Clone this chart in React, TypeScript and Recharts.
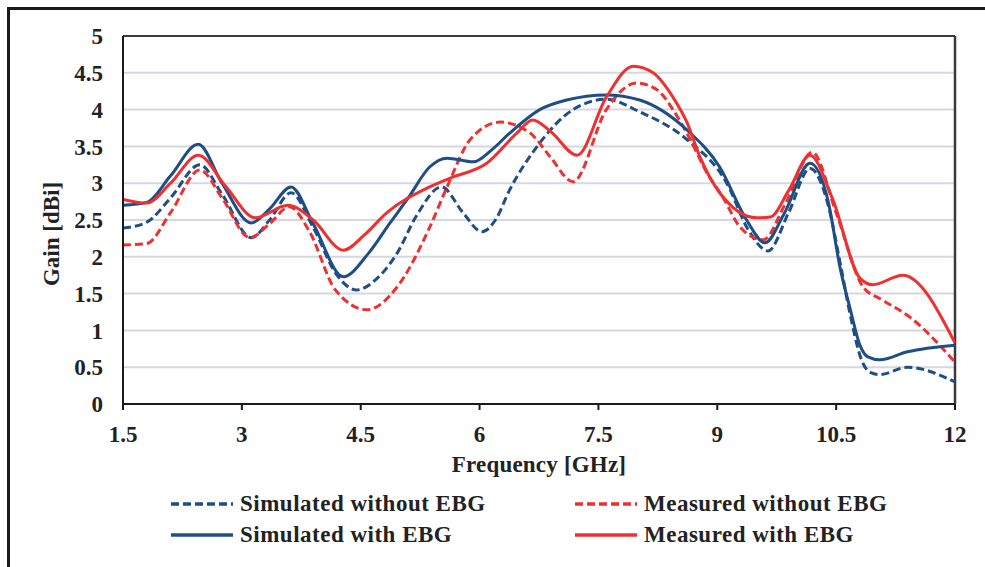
// Gain vs frequency — four smoothed series (simulated/measured, with/without EBG).
// Each series carries its own frequency samples, drawn on a numeric X axis.

import React from 'react'
import {
  LineChart,
  Line,
  XAxis,
  YAxis,
  CartesianGrid,
  ReferenceLine,
  Label,
} from 'recharts'

const FONT = "'Liberation Serif', 'Times New Roman', serif"
const TEXT_COLOR = '#222222'
const BLUE = '#1f4e85'
const RED = '#ef3030'

const xTicks = [1.5, 3, 4.5, 6, 7.5, 9, 10.5, 12]
const yTicks = [0, 0.5, 1, 1.5, 2, 2.5, 3, 3.5, 4, 4.5, 5]

// Simulated without EBG
const simNoEbgFreq = [1.5, 1.8, 2.1, 2.47, 2.75, 3.12, 3.35, 3.62, 3.9, 4.2, 4.45, 4.7, 4.96, 5.2, 5.52, 5.79, 6.03, 6.2, 6.38, 6.72, 7.18, 7.6, 8.02, 8.62, 9.12, 9.4, 9.64, 9.9, 10.17, 10.4, 10.55, 10.68, 10.82, 10.93, 11.05, 11.4, 12]
const simNoEbgGain = [2.39, 2.47, 2.8, 3.25, 2.85, 2.26, 2.5, 2.87, 2.4, 1.75, 1.55, 1.7, 2.05, 2.55, 2.95, 2.6, 2.34, 2.5, 2.91, 3.49, 4.0, 4.14, 3.97, 3.59, 3.0, 2.35, 2.08, 2.6, 3.2, 2.7, 1.92, 1.2, 0.6, 0.43, 0.4, 0.5, 0.3]

// Simulated with EBG
const simEbgFreq = [1.5, 1.8, 2.1, 2.45, 2.75, 3.12, 3.35, 3.62, 3.9, 4.28, 4.6, 4.87, 5.1, 5.37, 5.59, 5.92, 6.15, 6.38, 6.76, 7.1, 7.6, 8.02, 8.62, 9.03, 9.37, 9.6, 9.85, 10.17, 10.4, 10.55, 10.68, 10.8, 10.9, 11.05, 11.4, 12]
const simEbgGain = [2.7, 2.74, 3.1, 3.53, 3.0, 2.46, 2.65, 2.95, 2.45, 1.73, 2.05, 2.46, 2.8, 3.22, 3.34, 3.29, 3.45, 3.68, 4.0, 4.13, 4.2, 4.13, 3.72, 3.22, 2.5, 2.19, 2.6, 3.27, 2.75, 1.85, 1.28, 0.8, 0.64, 0.6, 0.71, 0.8]

// Measured without EBG
const measNoEbgFreq = [1.5, 1.8, 2.1, 2.47, 2.75, 3.1, 3.35, 3.6, 3.85, 4.18, 4.58, 4.96, 5.37, 5.59, 5.88, 6.26, 6.64, 6.89, 7.18, 7.6, 7.98, 8.24, 8.44, 8.66, 8.87, 9.07, 9.29, 9.58, 9.85, 10.2, 10.5, 10.84, 11.09, 11.43, 12]
const measNoEbgGain = [2.16, 2.18, 2.6, 3.18, 2.8, 2.26, 2.45, 2.68, 2.35, 1.55, 1.28, 1.59, 2.4, 2.95, 3.59, 3.83, 3.68, 3.36, 3.02, 4.0, 4.36, 4.27, 4.0, 3.59, 3.14, 2.81, 2.4, 2.23, 2.7, 3.42, 2.6, 1.59, 1.41, 1.18, 0.57]

// Measured with EBG
const measEbgFreq = [1.5, 1.8, 2.1, 2.45, 2.8, 3.17, 3.58, 3.9, 4.28, 4.55, 4.83, 5.37, 5.63, 6.09, 6.47, 6.67, 6.9, 7.23, 7.6, 7.94, 8.19, 8.44, 8.62, 8.78, 9.03, 9.5, 9.67, 9.9, 10.17, 10.45, 10.8, 10.96, 11.34, 12]
const measEbgGain = [2.78, 2.73, 3.0, 3.38, 2.95, 2.53, 2.7, 2.5, 2.09, 2.3, 2.6, 2.95, 3.07, 3.27, 3.68, 3.86, 3.7, 3.38, 4.17, 4.59, 4.5, 4.17, 3.82, 3.36, 2.87, 2.53, 2.54, 2.9, 3.38, 2.8, 1.71, 1.62, 1.75, 0.83]

function toPoints(freq: number[], gain: number[]) {
  return freq.map((f, i) => ({ freq: f, gain: gain[i] }))
}

const series = [
  { key: 'simNoEbg', name: 'Simulated without EBG', color: BLUE, dashed: true, data: toPoints(simNoEbgFreq, simNoEbgGain) },
  { key: 'measNoEbg', name: 'Measured without EBG', color: RED, dashed: true, data: toPoints(measNoEbgFreq, measNoEbgGain) },
  { key: 'simEbg', name: 'Simulated with EBG', color: BLUE, dashed: false, data: toPoints(simEbgFreq, simEbgGain) },
  { key: 'measEbg', name: 'Measured with EBG', color: RED, dashed: false, data: toPoints(measEbgFreq, measEbgGain) },
]

const tickStyle = { fontSize: 23, fontFamily: FONT, fontWeight: 700, fill: TEXT_COLOR }

function GainLabel({ viewBox }: any) {
  const cx = viewBox.x + 51
  const cy = viewBox.y + viewBox.height / 2 + 14
  return (
    <text
      x={cx}
      y={cy}
      transform={`rotate(-90, ${cx}, ${cy})`}
      textAnchor="middle"
      dominantBaseline="central"
      style={tickStyle}
    >
      Gain [dBi]
    </text>
  )
}

function LegendItem({ name, color, dashed }: { name: string; color: string; dashed: boolean }) {
  return (
    <div style={{ display: 'flex', alignItems: 'center', height: 31 }}>
      <svg width={64} height={10} style={{ display: 'block' }}>
        <line x1={1} y1={5} x2={63} y2={5} stroke={color} strokeWidth={3.5} strokeDasharray={dashed ? '8 4' : undefined} />
      </svg>
      <span
        style={{
          marginLeft: 6,
          fontFamily: FONT,
          fontWeight: 700,
          fontSize: 23,
          letterSpacing: 0.5,
          color: TEXT_COLOR,
          whiteSpace: 'nowrap',
        }}
      >
        {name}
      </span>
    </div>
  )
}

export default function App() {
  const [row1, row2] = [series.slice(0, 2), series.slice(2)]
  return (
    <div style={{ position: 'fixed', left: 0, top: 0, width: 985, height: 567, background: '#fff', overflow: 'hidden' }}>
      <div
        style={{
          position: 'absolute',
          left: 7,
          top: 7,
          width: 1000,
          height: 600,
          borderTop: '3.5px solid #1a1a1a',
          borderLeft: '3.5px solid #1a1a1a',
        }}
      />
      <div style={{ position: 'absolute', left: 0, top: 0 }}>
        <LineChart width={985} height={567} margin={{ top: 36, right: 30, left: 0, bottom: 133 }}>
          <CartesianGrid vertical={false} stroke="#d6d7df" strokeWidth={2} />
          <XAxis
            dataKey="freq"
            type="number"
            domain={[1.5, 12]}
            ticks={xTicks}
            height={30}
            tick={tickStyle}
            tickSize={6}
            tickMargin={16}
            axisLine={{ stroke: '#1a1a1a', strokeWidth: 2 }}
            tickLine={{ stroke: '#1a1a1a', strokeWidth: 2 }}
            allowDataOverflow
          >
            <Label
              value="Frequency [GHz]"
              position="bottom"
              offset={22}
              style={{ ...tickStyle, letterSpacing: 0.2 }}
            />
          </XAxis>
          <YAxis
            type="number"
            domain={[0, 5]}
            ticks={yTicks}
            width={123}
            tick={tickStyle}
            tickSize={0}
            tickMargin={20}
            tickLine={false}
            axisLine={{ stroke: '#1a1a1a', strokeWidth: 2 }}
            allowDataOverflow
          >
            <Label content={<GainLabel />} />
          </YAxis>
          <ReferenceLine y={5} stroke="#3a3a3a" strokeWidth={2} />
          <ReferenceLine x={12} stroke="#3a3a3a" strokeWidth={2.5} />
          {series.map((s) => (
            <Line
              key={s.key}
              data={s.data}
              dataKey="gain"
              name={s.name}
              type="monotone"
              stroke={s.color}
              strokeWidth={3}
              strokeDasharray={s.dashed ? '8 4' : undefined}
              dot={false}
              activeDot={false}
              isAnimationActive={false}
            />
          ))}
        </LineChart>
      </div>
      {[row1, row2].map((row, r) => (
        <div key={r} style={{ position: 'absolute', top: 488 + r * 31, left: 0 }}>
          {row.map((s, c) => (
            <div key={s.key} style={{ position: 'absolute', left: c === 0 ? 170 : 574, top: 0 }}>
              <LegendItem name={s.name} color={s.color} dashed={s.dashed} />
            </div>
          ))}
        </div>
      ))}
    </div>
  )
}
